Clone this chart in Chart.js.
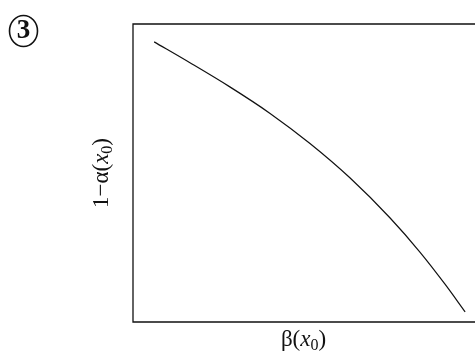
<!DOCTYPE html>
<html>
<head>
<meta charset="utf-8">
<script src="https://cdn.jsdelivr.net/npm/chart.js@4"></script>
<style>
    html, body { margin: 0; padding: 0; background: #fff; }
    #wrap { width: 475px; height: 358px; }
</style>
</head>
<body>
<div id="wrap"><canvas id="rocChart"></canvas></div>
<script>
// beta(x0) along the bottom, 1 - alpha(x0) up the side
const betaValues  = [0.062, 0.167, 0.284, 0.402, 0.519, 0.636, 0.754, 0.842, 0.915, 0.974];
const powerValues = [0.940, 0.870, 0.789, 0.700, 0.599, 0.484, 0.349, 0.234, 0.127, 0.034];
const panelDigit = '3';

const points = betaValues.map((b, i) => ({ x: b, y: powerValues[i] }));

// draws a label made of pieces with their own font and vertical shift
function drawPieces(ctx, pieces, cx, cy) {
    let total = 0;
    pieces.forEach(p => {
        ctx.font = p.font;
        p.w = ctx.measureText(p.text).width;
        total += p.w;
    });
    let x = cx - total / 2;
    pieces.forEach(p => {
        ctx.font = p.font;
        ctx.fillText(p.text, x, cy + (p.dy || 0));
        x += p.w;
    });
}

const serif = "'Liberation Serif', 'Times New Roman', 'DejaVu Serif', serif";

const framePlugin = {
    id: 'frameAndLabels',
    afterDraw(chart) {
        const { ctx, chartArea, width } = chart;
        ctx.save();
        // open frame: right side runs past the canvas edge
        ctx.strokeStyle = '#111';
        ctx.lineWidth = 1.3;
        ctx.beginPath();
        ctx.moveTo(width + 2, chartArea.top);
        ctx.lineTo(chartArea.left, chartArea.top);
        ctx.lineTo(chartArea.left, chartArea.bottom);
        ctx.lineTo(width + 2, chartArea.bottom);
        ctx.stroke();

        ctx.fillStyle = '#111';
        ctx.textBaseline = 'alphabetic';
        ctx.textAlign = 'left';

        const midX = (chartArea.left + chartArea.right) / 2;
        drawPieces(ctx, [
            { text: '\u03b2(', font: '23px ' + serif },
            { text: 'x', font: 'italic 23px ' + serif },
            { text: '0', font: '16px ' + serif, dy: 4 },
            { text: ')', font: '23px ' + serif }
        ], midX, 346);

        const midY = (chartArea.top + chartArea.bottom) / 2;
        ctx.save();
        ctx.translate(108, midY);
        ctx.rotate(-Math.PI / 2);
        drawPieces(ctx, [
            { text: '1\u2212\u03b1(', font: '23px ' + serif },
            { text: 'x', font: 'italic 23px ' + serif },
            { text: '0', font: '16px ' + serif, dy: 4 },
            { text: ')', font: '23px ' + serif }
        ], 0, 0);
        ctx.restore();

        // circled panel number
        ctx.lineWidth = 1.6;
        ctx.beginPath();
        ctx.ellipse(23.5, 31, 14, 15.5, 0, 0, Math.PI * 2);
        ctx.stroke();
        ctx.textAlign = 'center';
        ctx.textBaseline = 'middle';
        ctx.font = 'bold 27px ' + serif;
        ctx.fillText(panelDigit, 23.5, 31.5);
        ctx.restore();
    }
};

new Chart(document.getElementById('rocChart').getContext('2d'), {
    type: 'line',
    data: {
        datasets: [{
            data: points,
            borderColor: '#111',
            borderWidth: 1.2,
            pointRadius: 0,
            fill: false,
            cubicInterpolationMode: 'monotone'
        }]
    },
    options: {
        responsive: true,
        maintainAspectRatio: false,
        animation: false,
        layout: { padding: { left: 133, top: 24, right: 1, bottom: 36 } },
        scales: {
            x: { type: 'linear', min: 0, max: 1, display: false },
            y: { type: 'linear', min: 0, max: 1, display: false }
        },
        plugins: {
            legend: { display: false },
            tooltip: { enabled: false }
        }
    },
    plugins: [framePlugin]
});
</script>
</body>
</html>
